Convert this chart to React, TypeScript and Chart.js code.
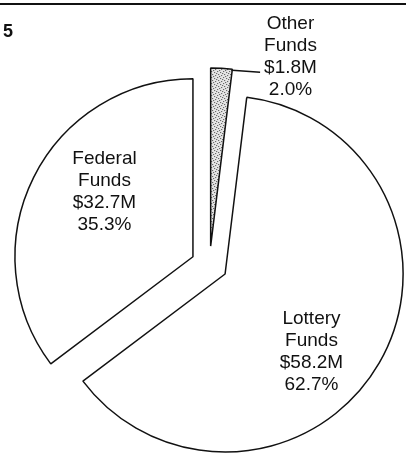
import { useEffect, useRef } from "react";
import { Chart, registerables } from "chart.js";

Chart.register(...registerables);

// ---- data ----
const categories = ["Other Funds", "Lottery Funds", "Federal Funds"];
const amountsM = [1.8, 58.2, 32.7]; // $ millions
const sharesPct = [2.0, 62.7, 35.3]; // % of total
const pageNumber = "5";

// ---- style ----
const FONT = '"Liberation Sans", Arial, sans-serif';
const explode = [19, 18, 18.5]; // px each slice is pulled out along its mid-angle
// label block centres relative to the pie centre, in units of radius
const labelAnchors = [
  [0.455, -1.177],
  [0.573, 0.48],
  [-0.59, -0.419],
];

function makeStipple(): CanvasPattern | string {
  const tile = document.createElement("canvas");
  tile.width = 6;
  tile.height = 6;
  const c = tile.getContext("2d");
  if (!c) return "#ccc";
  c.fillStyle = "#e6e6e6";
  c.fillRect(0, 0, 6, 6);
  c.fillStyle = "#444";
  const dots = [
    [0, 0], [3, 1], [1, 3], [4, 4], [5, 2], [2, 5],
  ];
  dots.forEach(([x, y]) => c.fillRect(x, y, 1, 1));
  const p = c.createPattern(tile, "repeat");
  return p || "#ccc";
}

function shift(arc: any, i: number) {
  const mid = (arc.startAngle + arc.endAngle) / 2;
  return [Math.cos(mid) * explode[i], Math.sin(mid) * explode[i]];
}

export default function App() {
  const ref = useRef<HTMLCanvasElement>(null);

  useEffect(() => {
    document.body.style.margin = "0";
    const canvas = ref.current;
    if (!canvas) return;

    const explodePlugin = {
      id: "explode",
      beforeDatasetDraw(chart: any, args: any) {
        const ctx = chart.ctx as CanvasRenderingContext2D;
        args.meta.data.forEach((arc: any, i: number) => {
          const [dx, dy] = shift(arc, i);
          ctx.save();
          ctx.translate(dx, dy);
          arc.draw(ctx, chart.chartArea);
          ctx.restore();
        });
        return false;
      },
    };

    const labelPlugin = {
      id: "pieLabels",
      afterDraw(chart: any) {
        const ctx = chart.ctx as CanvasRenderingContext2D;
        const meta = chart.getDatasetMeta(0);
        const a0 = meta.data[0] as any;
        const cx = a0.x;
        const cy = a0.y;
        const r = a0.outerRadius;
        ctx.save();

        // top rule and page number
        ctx.fillStyle = "#111";
        ctx.fillRect(0, 3, chart.width, 2);
        ctx.font = `bold 18px ${FONT}`;
        ctx.textAlign = "left";
        ctx.textBaseline = "alphabetic";
        ctx.fillText(pageNumber, 3, 37);

        ctx.font = `19px ${FONT}`;
        ctx.textAlign = "center";
        const lineH = 22;
        categories.forEach((cat, i) => {
          const lines = [
            ...cat.split(" "),
            `$${amountsM[i].toFixed(1)}M`,
            `${sharesPct[i].toFixed(1)}%`,
          ];
          const lx = cx + labelAnchors[i][0] * r;
          const ly = cy + labelAnchors[i][1] * r;
          const top = ly - ((lines.length - 1) * lineH) / 2;
          lines.forEach((t, k) => {
            ctx.fillText(t, lx, top + k * lineH + 7);
          });

          if (i === 0) {
            // leader line from the small slice to its label
            const arc = meta.data[0] as any;
            const [dx, dy] = shift(arc, 0);
            const sx = cx + dx + r * Math.cos(arc.endAngle);
            const sy = cy + dy + r * Math.sin(arc.endAngle);
            const w = ctx.measureText(lines[2]).width;
            const ex = lx - w / 2 - 4;
            ctx.strokeStyle = "#111";
            ctx.lineWidth = 1.5;
            ctx.beginPath();
            ctx.moveTo(sx, sy + 1);
            ctx.lineTo(ex, sy + 3);
            ctx.stroke();
          }
        });
        ctx.restore();
      },
    };

    const chart = new Chart(canvas, {
      type: "pie",
      data: {
        labels: categories,
        datasets: [
          {
            data: amountsM,
            backgroundColor: [makeStipple() as any, "#ffffff", "#ffffff"],
            borderColor: "#111111",
            borderWidth: 1.5,
            offset: 0,
          },
        ],
      },
      options: {
        animation: false,
        responsive: false,
        radius: 178,
        layout: { padding: { left: 13, right: 0, top: 77, bottom: 0 } },
        events: [],
        plugins: {
          legend: { display: false },
          tooltip: { enabled: false },
        },
      } as any,
      plugins: [explodePlugin, labelPlugin],
    });

    return () => chart.destroy();
  }, []);

  return (
    <canvas
      ref={ref}
      width={406}
      height={453}
      style={{ display: "block", width: 406, height: 453 }}
    />
  );
}
